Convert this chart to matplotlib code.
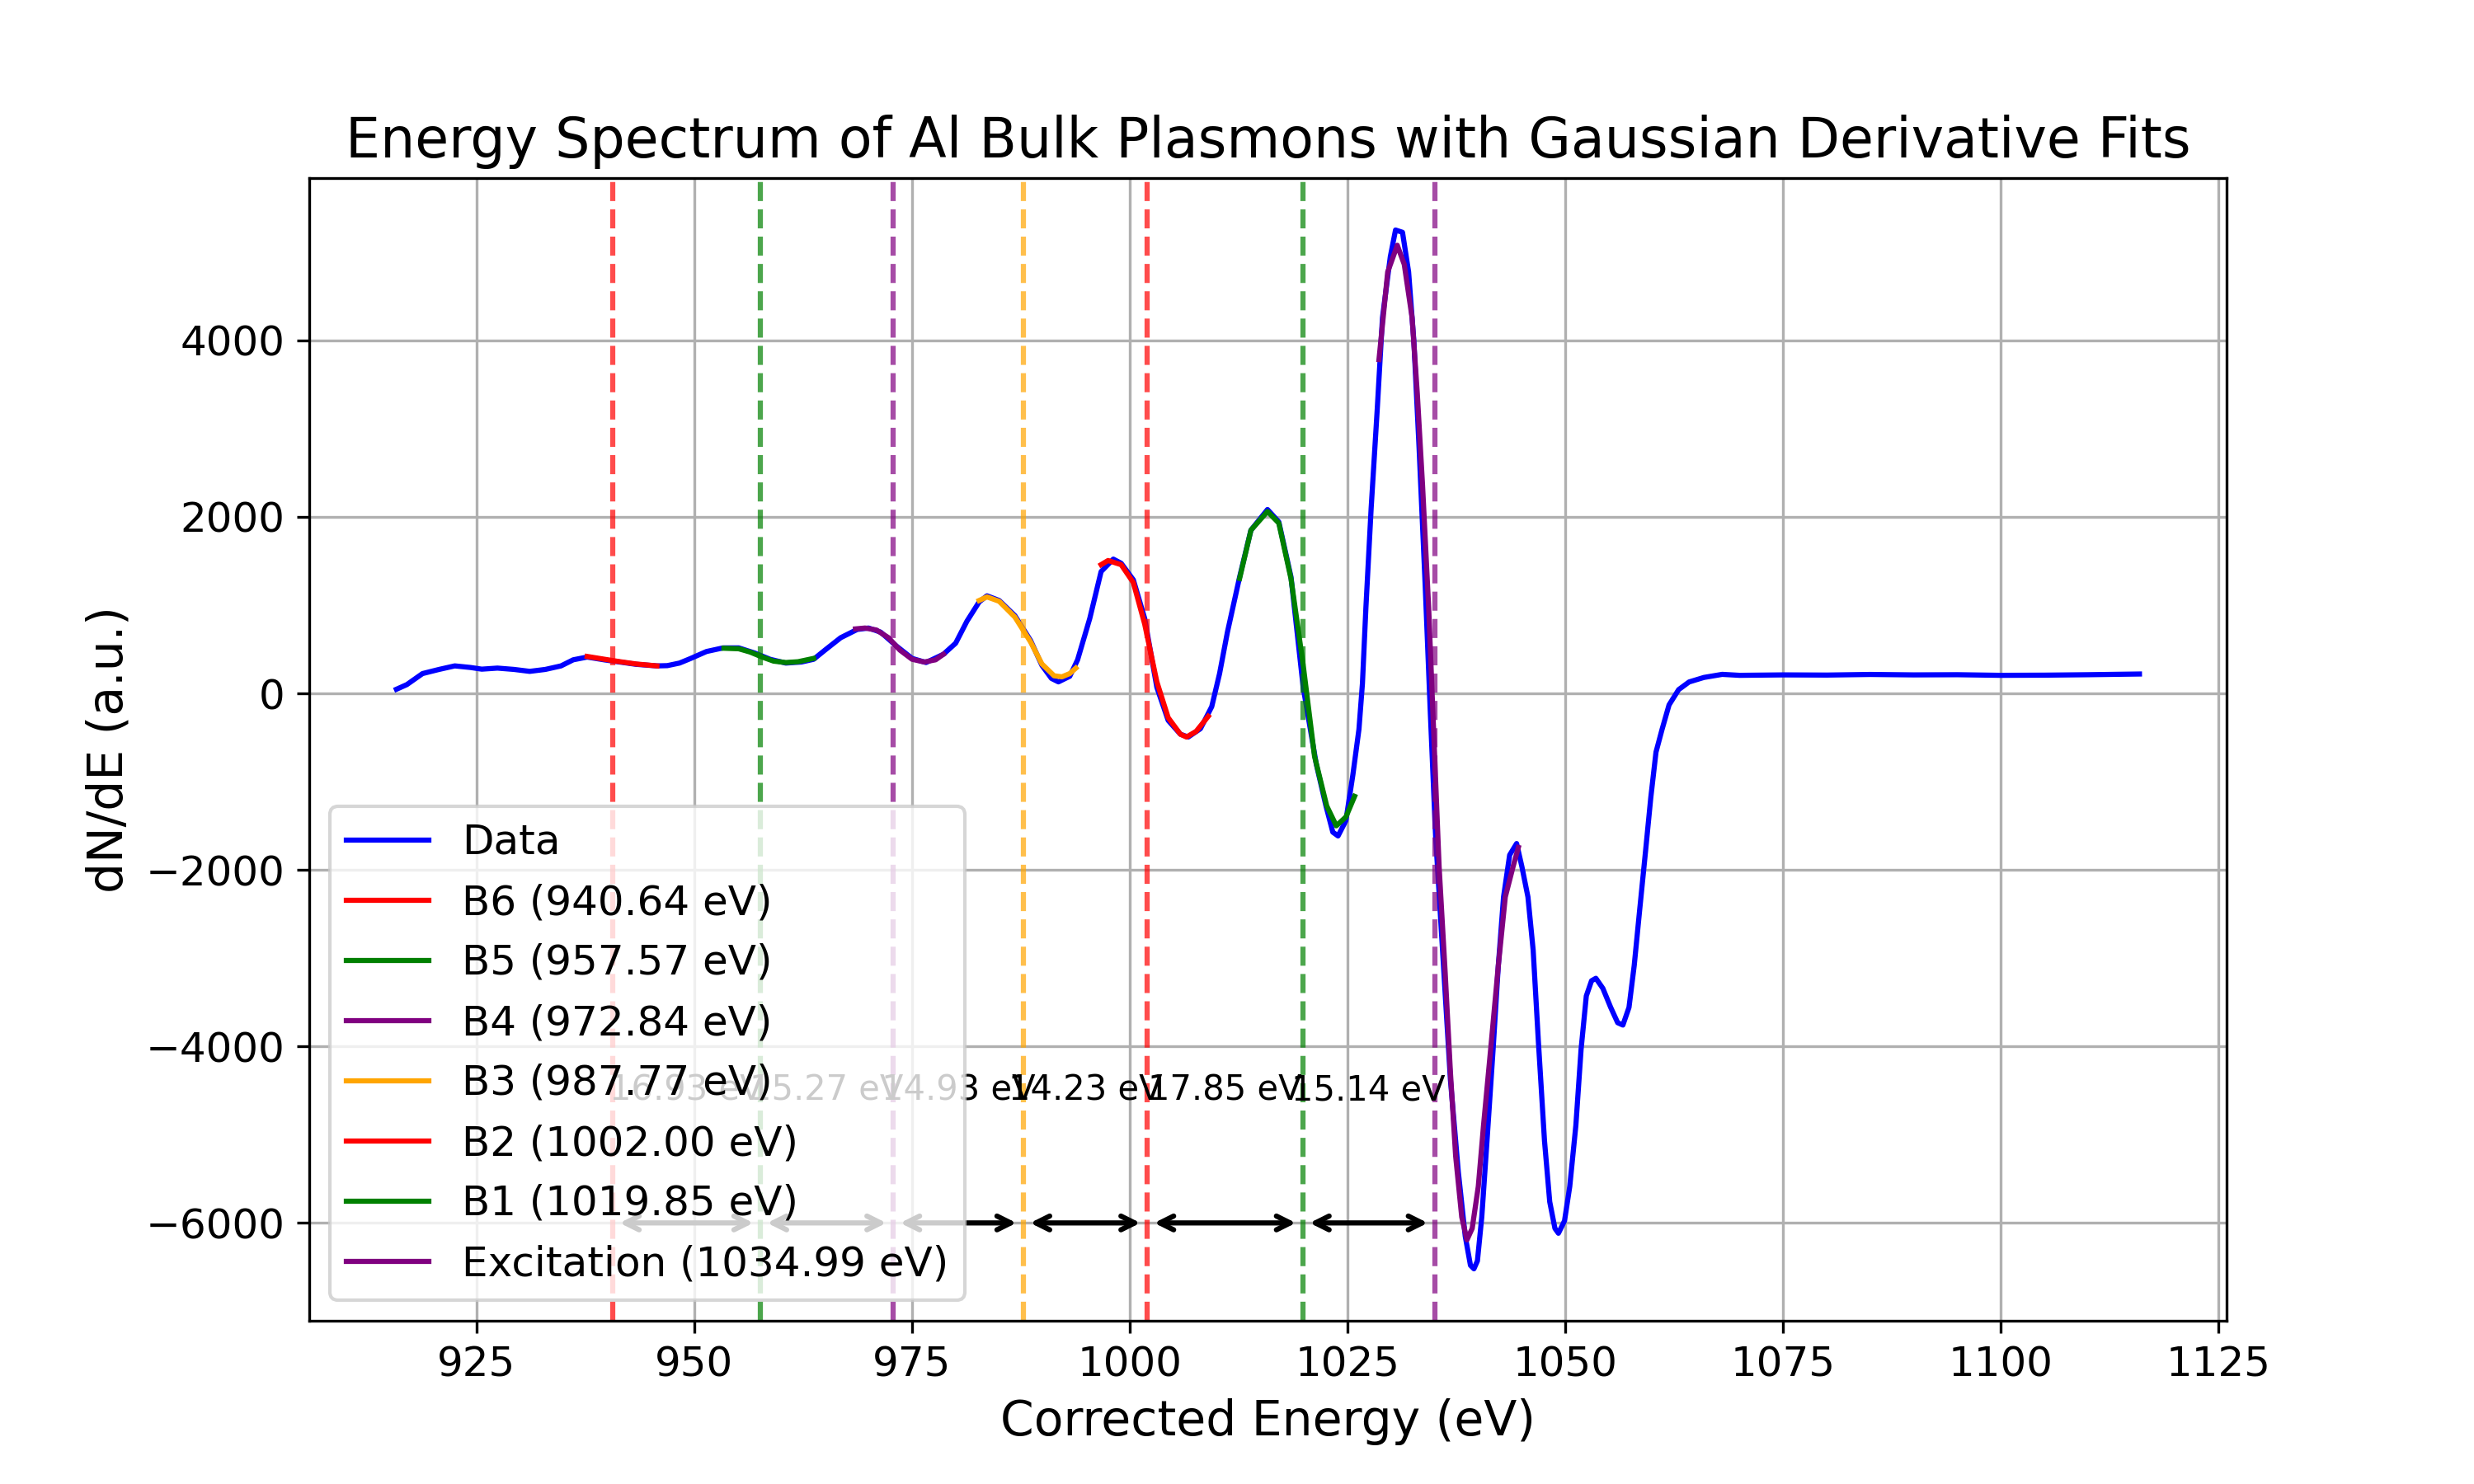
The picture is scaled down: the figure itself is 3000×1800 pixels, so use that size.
import numpy as np
import matplotlib
matplotlib.use('Agg')
import matplotlib.pyplot as plt

energy = [915.8, 917.0, 918.8, 920.7, 922.5, 924.3, 925.6, 927.4, 929.3, 931.1,
          932.9, 934.7, 936.1, 937.7, 939.7, 941.5, 943.3, 945.7, 946.9, 948.3,
          949.6, 951.4, 953.3, 955.1, 956.9, 958.7, 960.5, 962.3, 963.7, 965.0,
          966.8, 968.7, 970.0, 971.4, 973.2, 975.0, 976.6, 978.6, 980.0, 981.3,
          982.7, 983.6, 985.0, 986.8, 988.6, 989.9, 991.0, 991.8, 993.1, 994.0,
          995.4, 996.7, 998.1, 999.0, 1000.4, 1001.7, 1003.1, 1004.4, 1005.8, 1006.7,
          1008.1, 1009.4, 1010.3, 1011.2, 1012.6, 1013.9, 1015.8, 1017.1, 1018.5, 1019.9,
          1021.4, 1022.5, 1023.3, 1023.9, 1024.8, 1025.6, 1026.3, 1026.7, 1027.1, 1027.7,
          1028.4, 1029.0, 1029.9, 1030.5, 1031.3, 1032.0, 1032.6, 1033.2, 1033.9, 1034.5,
          1035.1, 1036.0, 1036.8, 1037.7, 1038.5, 1039.1, 1039.5, 1039.9, 1040.4, 1041.0,
          1041.7, 1042.3, 1042.9, 1043.6, 1044.4, 1045.0, 1045.7, 1046.3, 1046.9, 1047.6,
          1048.2, 1048.8, 1049.2, 1049.9, 1050.5, 1051.2, 1051.8, 1052.4, 1053.0, 1053.5,
          1054.3, 1055.2, 1056.0, 1056.6, 1057.3, 1057.9, 1058.5, 1059.2, 1059.8, 1060.4,
          1061.1, 1061.9, 1063.0, 1064.2, 1065.9, 1068.0, 1070.0, 1075.0, 1080.0, 1085.0,
          1090.0, 1095.0, 1100.0, 1105.0, 1110.0, 1115.9]
dnde = [47, 100, 225, 272, 312, 294, 275, 287, 272, 250,
        272, 312, 381, 412, 380, 355, 330, 312, 315, 344,
        397, 475, 516, 516, 459, 387, 344, 356, 387, 491,
        631, 725, 741, 694, 537, 397, 350, 444, 569, 819,
        1037, 1106, 1053, 881, 600, 319, 170, 131, 194, 381,
        850, 1381, 1522, 1475, 1287, 850, 69, -306, -462, -494,
        -400, -150, 225, 694, 1319, 1850, 2084, 1944, 1319, 69,
        -800, -1270, -1572, -1615, -1442, -924, -406, 112, 976, 2098,
        3221, 4257, 4948, 5251, 5225, 4776, 3998, 2789, 1235, -233,
        -1615, -3083, -4378, -5415, -6150, -6480, -6520, -6430, -5933, -5069,
        -4033, -3083, -2306, -1831, -1701, -1960, -2306, -2910, -3947, -5069,
        -5760, -6062, -6117, -5976, -5587, -4896, -4033, -3428, -3256, -3228,
        -3342, -3558, -3731, -3758, -3558, -3083, -2479, -1788, -1183, -665,
        -406, -130, 43, 130, 181, 216, 205, 210, 208, 215,
        210, 212, 205, 207, 212, 220]

# fitted peaks
names = ['B6', 'B5', 'B4', 'B3', 'B2', 'B1', 'Excitation']
centers = [940.64, 957.57, 972.84, 987.77, 1002.00, 1019.85, 1034.99]
colors = ['red', 'green', 'purple', 'orange', 'red', 'green', 'purple']

fit_x = [
    [937.7, 939.7, 941.5, 943.3, 945.7],
    [953.4, 955.1, 956.4, 957.8, 959.1, 960.5, 961.9, 963.7],
    [968.5, 969.6, 970.9, 972.3, 973.6, 975.0, 976.4, 977.7, 978.6],
    [982.7, 983.6, 985.0, 986.8, 988.6, 989.9, 991.3, 992.2, 993.1, 993.8],
    [996.7, 997.5, 999.0, 1000.4, 1001.7, 1003.1, 1004.4, 1005.8, 1006.5, 1007.6, 1009.0],
    [1012.6, 1013.9, 1015.8, 1017.1, 1018.5, 1019.9, 1021.2, 1022.6, 1023.7, 1024.8, 1025.8],
    [1028.6, 1029.6, 1030.7, 1031.5, 1032.4, 1033.0, 1033.6, 1034.3, 1034.9, 1035.5,
     1036.2, 1036.8, 1037.4, 1038.1, 1038.7, 1039.3, 1040.0, 1040.6, 1041.5, 1042.3,
     1043.1, 1044.0, 1044.6],
]
fit_y = [
    [419, 387, 359, 334, 312],
    [512, 506, 469, 412, 366, 350, 359, 397],
    [731, 741, 719, 631, 491, 387, 356, 381, 444],
    [1053, 1094, 1044, 866, 584, 334, 200, 188, 225, 287],
    [1459, 1506, 1459, 1256, 787, 131, -275, -462, -494, -431, -259],
    [1303, 1850, 2062, 1930, 1300, 319, -712, -1275, -1500, -1400, -1166],
    [3783, 4776, 5078, 4862, 4258, 3394, 2358, 976, -492, -1960,
     -3169, -4292, -5242, -5933, -6192, -6062, -5587, -4896, -3947, -3083,
     -2306, -1960, -1745],
]

print('\nGerando gráfico...')

fig, ax = plt.subplots(figsize=(10, 6), dpi=300)

ax.plot(energy, dnde, color='blue', lw=1.5, label='Data')

for i in range(len(names)):
    ax.plot(fit_x[i], fit_y[i], color=colors[i], lw=1.5,
            label=f'{names[i]} ({centers[i]:.2f} eV)')
    ax.axvline(centers[i], color=colors[i], ls='--', alpha=0.7)

# distances between neighbouring peaks
for i in range(len(centers) - 1):
    x1, x2 = centers[i], centers[i + 1]
    ax.annotate('', xy=(x2, -6000), xytext=(x1, -6000),
                arrowprops=dict(arrowstyle='<->', color='black', lw=1.5))
    ax.text((x1 + x2) / 2, -4500, f'{x2 - x1:.2f} eV', ha='center', va='center', fontsize=10)

ax.set_title('Energy Spectrum of Al Bulk Plasmons with Gaussian Derivative Fits', fontsize=16)
ax.set_xlabel('Corrected Energy (eV)', fontsize=14)
ax.set_ylabel('dN/dE (a.u.)', fontsize=14)
ax.tick_params(labelsize=12)
ax.grid(True)
ax.legend(loc='lower left', fontsize=12)

plt.savefig('out.png')
